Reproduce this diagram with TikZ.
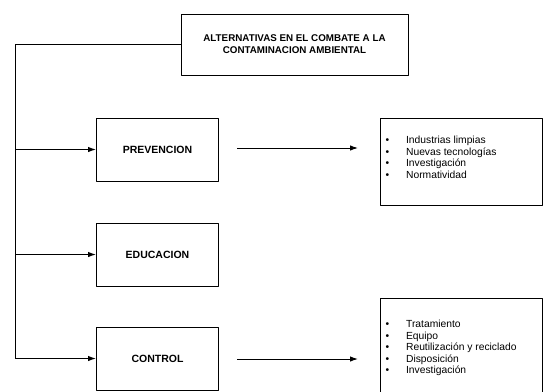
\documentclass[tikz,border=0pt]{standalone}
\usepackage{fontspec}
\setmainfont{Liberation Sans}
\usetikzlibrary{arrows.meta}
\begin{document}
\begin{tikzpicture}[x=1pt,y=-1pt,line width=1pt,line join=round,
  caja/.style={draw,minimum width=122pt,minimum height=63pt,
    font=\fontsize{10.5}{12}\selectfont\bfseries},
  lista/.style={draw,minimum width=162pt,anchor=north west},
  items/.style={anchor=north west,inner sep=0pt,
    font=\fontsize{10.3}{11.5}\selectfont},
  flecha/.style={-{Latex[length=8pt,width=5.5pt]}}]
  \useasboundingbox (0,0) rectangle (546,391);
  \node[draw,minimum width=227pt,minimum height=61pt,align=center,
    font=\fontsize{9.8}{12}\selectfont\bfseries] (T) at (294.5,44.5)
    {ALTERNATIVAS EN EL COMBATE A LA\\CONTAMINACION AMBIENTAL};
  \node[caja] (P) at (157.5,149.5) {PREVENCION};
  \node[caja] (E) at (157.5,254.5) {EDUCACION};
  \node[caja] (C) at (157.5,358.5) {CONTROL};
  % tronco de la izquierda
  \coordinate (esq) at (15,358.5);
  \draw (T.west) -| (esq);
  \draw[flecha] (esq |- P.west) -- (P.west);
  \draw[flecha] (esq |- E.west) -- (E.west);
  \draw[flecha] (esq) -- (C.west);
  % listas
  \node[lista,minimum height=87pt] (L1) at (380,118) {};
  \node[items] (I1) at (385,135) {\begin{tabular}{@{}l@{\hspace{17pt}}l@{}}
    \textbullet & Industrias limpias\\
    \textbullet & Nuevas tecnologías\\
    \textbullet & Investigación\\
    \textbullet & Normatividad
  \end{tabular}};
  \node[lista,minimum height=110pt] (L2) at (380,298) {};
  \node[items] (I2) at (385,319) {\begin{tabular}{@{}l@{\hspace{17pt}}l@{}}
    \textbullet & Tratamiento\\
    \textbullet & Equipo\\
    \textbullet & Reutilización y reciclado\\
    \textbullet & Disposición\\
    \textbullet & Investigación
  \end{tabular}};
  \coordinate (s1) at (237,148);
  \coordinate (e1) at (358,148);
  \coordinate (s2) at (237,359);
  \coordinate (e2) at (358,359);
  \draw[flecha] (s1) -- (e1);
  \draw[flecha] (s2) -- (e2);
\end{tikzpicture}
\end{document}
